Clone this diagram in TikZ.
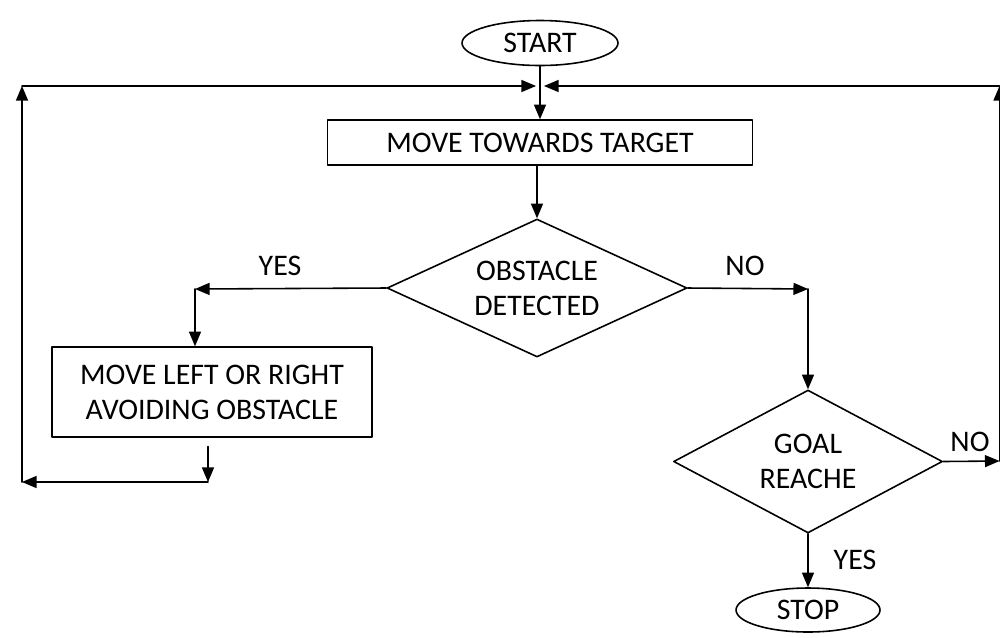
\documentclass[tikz,border=0pt]{standalone}
\usepackage{fontspec}
\setmainfont{Carlito}
\usetikzlibrary{arrows,shapes.geometric}

\begin{document}
\begin{tikzpicture}[line cap=round,line join=round,>=triangle 45,x=0.02cm,y=-0.02cm,
  line width=0.9pt,font=\fontsize{17}{20}\selectfont,
  term/.style={draw,ellipse,inner sep=0pt},
  proc/.style={draw,rectangle,align=center,inner sep=0pt},
  test/.style={draw,diamond,align=center,inner sep=0pt,shape aspect=2}]

\useasboundingbox (0,0) rectangle (1000,637);
\clip (0,0) rectangle (1000,637);

\node[term,minimum width=3.12cm,minimum height=0.9cm] (start) at (540,43) {START};
\node[proc,minimum width=8.5cm,minimum height=0.9cm] (move) at (540,142.5) {MOVE TOWARDS TARGET};
\node[test,minimum width=6cm,minimum height=2.76cm] (obst) at (537,288) {OBSTACLE\\DETECTED};
\node[proc,minimum width=6.4cm,minimum height=1.8cm] (avoid) at (212,392) {MOVE LEFT OR RIGHT\\AVOIDING OBSTACLE};
\node[test,minimum width=5.38cm,minimum height=2.86cm] (goal) at (808,461.5) {GOAL\\REACHE};
\node[term,minimum width=2.88cm,minimum height=0.88cm] (stop) at (808,610) {STOP};

\coordinate (jl) at (536,86);
\coordinate (jr) at (544,86);
\coordinate (tl) at (22,86);
\coordinate (ll) at (22,482);
\coordinate (bl) at (208,482);
\coordinate (yl) at (195,289);
\coordinate (nr) at (808,289);
\coordinate (gr) at (999.5,461);
\coordinate (rt) at (999.5,86);

\draw[->] (start) -- (start |- move.north);
\draw[->] (move.south -| obst) -- (obst.north);
\draw[->] (obst.west) -- (yl);
\draw[->] (yl) -- (yl |- avoid.north);
\draw[->,shorten <=5pt] (avoid.south -| bl) -- (bl);
\draw[->] (bl) -- (ll);
\draw[->] (ll) -- (tl);
\draw[->] (tl) -- (jl);
\draw[->] (obst.east) -- (nr);
\draw[->] (nr) -- (goal.north);
\draw[->] (goal.east) -- (gr);
\draw[->] (gr) -- (rt);
\draw[->] (rt) -- (jr);
\draw[->] (goal.south) -- (stop.north);

\node (yes1) at (280,266) {YES};
\node (no1) at (745,266) {NO};
\node (no2) at (970,442) {NO};
\node (yes2) at (855,560) {YES};

\end{tikzpicture}
\end{document}
